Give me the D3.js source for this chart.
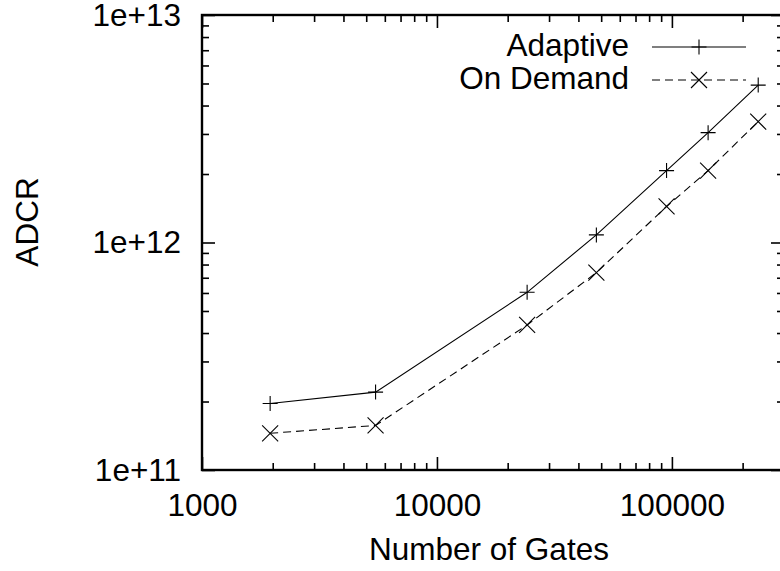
<!DOCTYPE html>
<html>
<head>
<meta charset="utf-8">
<script src="https://cdn.jsdelivr.net/npm/d3@7"></script>
<style>
  html, body { margin: 0; padding: 0; background: #fff; }
  svg { display: block; }
  text { font-family: "Liberation Sans", Arial, Helvetica, sans-serif; fill: #000; }
</style>
</head>
<body>
<svg id="chart" width="780" height="571"></svg>
<script>
// Number of gates per circuit
const gates = [1950, 5480, 24200, 47700, 94900, 142600, 233000];
// ADCR for each strategy
const adaptive = [1.96e11, 2.20e11, 6.04e11, 1.08e12, 2.07e12, 3.04e12, 4.92e12];
const onDemand = [1.45e11, 1.57e11, 4.34e11, 7.37e11, 1.44e12, 2.07e12, 3.40e12];
const seriesNames = ["Adaptive", "On Demand"];
const xMajorTicks = [1000, 10000, 100000];
const yMajorTicks = [1e11, 1e12, 1e13];
const yTickLabels = ["1e+11", "1e+12", "1e+13"];

const FS = 31.5;
const svg = d3.select("#chart");
const plotL = 202, plotR = 784, plotT = 15, plotB = 470;

const x = d3.scaleLog().domain([1000, 300000]).range([plotL, plotR]);
const y = d3.scaleLog().domain([1e11, 1e13]).range([plotB, plotT]);

const isPow10 = v => Math.abs(Math.log10(v) - Math.round(Math.log10(v))) < 1e-9;
const xMinor = x.ticks().filter(v => !isPow10(v));
const yMinor = y.ticks().filter(v => !isPow10(v));

function styleAxis(g) {
  g.select(".domain").remove();
  g.selectAll(".tick line").attr("stroke", "#000").attr("stroke-width", 1.6);
  g.selectAll(".tick text").style("font-size", FS + "px").attr("fill", "#000");
}

// bottom axis: major ticks with labels, then minor ticks
svg.append("g").attr("transform", `translate(0,${plotB})`)
  .call(d3.axisBottom(x).tickValues(xMajorTicks).tickSize(-13).tickPadding(23.5)
    .tickFormat(d3.format("d")))
  .call(styleAxis);
svg.append("g").attr("transform", `translate(0,${plotB})`)
  .call(d3.axisBottom(x).tickValues(xMinor).tickSize(-7).tickFormat(""))
  .call(styleAxis);
// top axis (ticks only)
svg.append("g").attr("transform", `translate(0,${plotT})`)
  .call(d3.axisTop(x).tickValues(xMajorTicks).tickSize(-13).tickFormat(""))
  .call(styleAxis);
svg.append("g").attr("transform", `translate(0,${plotT})`)
  .call(d3.axisTop(x).tickValues(xMinor).tickSize(-7).tickFormat(""))
  .call(styleAxis);
// left axis
svg.append("g").attr("transform", `translate(${plotL},0)`)
  .call(d3.axisLeft(y).tickValues(yMajorTicks).tickSize(-13).tickPadding(21)
    .tickFormat((d, i) => yTickLabels[i]))
  .call(styleAxis);
svg.append("g").attr("transform", `translate(${plotL},0)`)
  .call(d3.axisLeft(y).tickValues(yMinor).tickSize(-7).tickFormat(""))
  .call(styleAxis);
// right axis (ticks only)
svg.append("g").attr("transform", `translate(${plotR},0)`)
  .call(d3.axisRight(y).tickValues(yMajorTicks).tickSize(-13).tickFormat(""))
  .call(styleAxis);
svg.append("g").attr("transform", `translate(${plotR},0)`)
  .call(d3.axisRight(y).tickValues(yMinor).tickSize(-7).tickFormat(""))
  .call(styleAxis);

// plot frame
svg.append("rect")
  .attr("x", plotL).attr("y", plotT)
  .attr("width", plotR - plotL).attr("height", plotB - plotT)
  .attr("fill", "none").attr("stroke", "#000").attr("stroke-width", 2.4);

// axis titles
svg.append("text")
  .attr("x", 489).attr("y", 560)
  .attr("text-anchor", "middle").style("font-size", FS + "px")
  .text("Number of Gates");
svg.append("text")
  .attr("transform", "translate(38,222) rotate(-90)")
  .attr("text-anchor", "middle").style("font-size", FS + "px")
  .text("ADCR");

// data
svg.append("clipPath").attr("id", "plotClip")
  .append("rect").attr("x", plotL).attr("y", plotT)
  .attr("width", plotR - plotL).attr("height", plotB - plotT);

const line = d3.line().x(d => x(d[0])).y(d => y(d[1]));
const series = [
  { name: seriesNames[0], values: adaptive, dash: null, marker: "plus" },
  { name: seriesNames[1], values: onDemand, dash: "8,5", marker: "cross" }
];

function drawMarker(g, cx, cy, kind) {
  const p = d3.path();
  if (kind === "plus") {
    const s = 7.5;
    p.moveTo(cx - s, cy); p.lineTo(cx + s, cy);
    p.moveTo(cx, cy - s); p.lineTo(cx, cy + s);
  } else {
    const s = 8;
    p.moveTo(cx - s, cy - s); p.lineTo(cx + s, cy + s);
    p.moveTo(cx - s, cy + s); p.lineTo(cx + s, cy - s);
  }
  g.append("path").attr("d", p.toString())
    .attr("stroke", "#000").attr("stroke-width", 1.1).attr("fill", "none");
}

const plot = svg.append("g").attr("clip-path", "url(#plotClip)");
series.forEach(s => {
  const pts = gates.map((g, i) => [g, s.values[i]]);
  plot.append("path").datum(pts)
    .attr("d", line)
    .attr("fill", "none").attr("stroke", "#000").attr("stroke-width", 1.1)
    .attr("stroke-dasharray", s.dash);
  pts.forEach(p => drawMarker(plot, x(p[0]), y(p[1]), s.marker));
});

// legend
const legY = [47, 80];
series.forEach((s, i) => {
  svg.append("text")
    .attr("x", 629).attr("y", legY[i] + 9)
    .attr("text-anchor", "end").style("font-size", FS + "px")
    .text(s.name);
  svg.append("line")
    .attr("x1", 652).attr("x2", 746).attr("y1", legY[i]).attr("y2", legY[i])
    .attr("stroke", "#000").attr("stroke-width", 1.1)
    .attr("stroke-dasharray", s.dash);
  drawMarker(svg, 699, legY[i], s.marker);
});
</script>
</body>
</html>
